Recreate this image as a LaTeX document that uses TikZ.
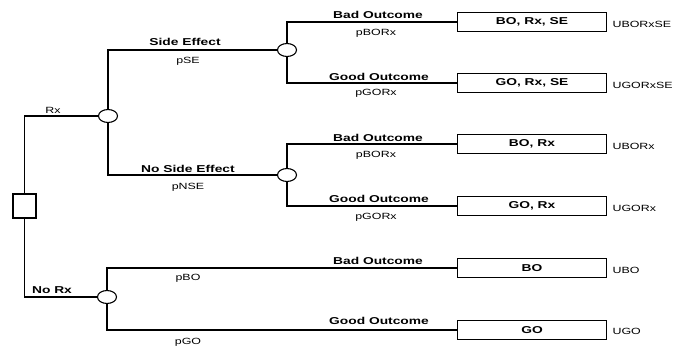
\documentclass[tikz,border=0pt]{standalone}
\usepackage{fontspec}
\newfontfamily\lab{Liberation Sans}[FakeStretch=1.38]
\usetikzlibrary{shapes.geometric}
\begin{document}
\begin{tikzpicture}[x=1pt,y=-1pt,line width=1.1pt,
  chance/.style={ellipse,draw,minimum width=19pt,minimum height=13pt,inner sep=0pt},
  decision/.style={rectangle,draw,minimum width=23pt,minimum height=24pt,inner sep=0pt},
  outbox/.style={rectangle,draw,minimum width=149pt,minimum height=19pt,inner sep=0pt,font=\lab\bfseries\fontsize{10}{12}\selectfont},
  bl/.style={inner sep=0pt,font=\lab\bfseries\fontsize{10}{12}\selectfont},
  pl/.style={inner sep=0pt,font=\lab\fontsize{9}{11}\selectfont},
  ul/.style={inner sep=0pt,anchor=west,font=\lab\fontsize{9}{11}\selectfont}]
\useasboundingbox (0,0) rectangle (673,347);
% nodes
\node[decision] (D) at (24.5,206) {};
\node[chance] (C1) at (108,116) {};
\node[chance] (C2) at (287,50) {};
\node[chance] (C3) at (287,175) {};
\node[chance] (C4) at (107,297) {};
\node[outbox] (B1) at (532,22) {BO, Rx, SE};
\node[outbox] (B2) at (532,83) {GO, Rx, SE};
\node[outbox] (B3) at (532,144) {BO, Rx};
\node[outbox] (B4) at (532,206) {GO, Rx};
\node[outbox] (B5) at (532,268) {BO};
\node[outbox] (B6) at (532,330) {GO};
% connectors
\draw (D) |- (C1);
\draw (D) |- (C4);
\draw (C1) |- (C2);
\draw (C1) |- (C3);
\draw (C2) |- (B1);
\draw (C2) |- (B2);
\draw (C3) |- (B3);
\draw (C3) |- (B4);
\draw (C4) |- (B5);
\draw (C4) |- (B6);
% branch labels
\node[pl] (tRx) at (53,110) {Rx};
\node[bl] (tNoRx) at (52,290) {No Rx};
\node[bl] (tSE) at (185,42) {Side Effect};
\node[pl] (pSE) at (188,61) {pSE};
\node[bl] (tNSE) at (188,169) {No Side Effect};
\node[pl] (pNSE) at (188,187) {pNSE};
\node[pl] (pBO) at (188,278) {pBO};
\node[pl] (pGO) at (188,342) {pGO};
\node[bl] (l1) at (378,15) {Bad Outcome};
\node[pl] (q1) at (376,33) {pBORx};
\node[bl] (l2) at (379,77) {Good Outcome};
\node[pl] (q2) at (376,93) {pGORx};
\node[bl] (l3) at (378,138) {Bad Outcome};
\node[pl] (q3) at (376,155) {pBORx};
\node[bl] (l4) at (379,199) {Good Outcome};
\node[pl] (q4) at (376,217) {pGORx};
\node[bl] (l5) at (378,261) {Bad Outcome};
\node[bl] (l6) at (379,321) {Good Outcome};
% utilities
\node[ul] (u1) at (612,24) {UBORxSE};
\node[ul] (u2) at (612,85) {UGORxSE};
\node[ul] (u3) at (612,146) {UBORx};
\node[ul] (u4) at (612,208) {UGORx};
\node[ul] (u5) at (612,270) {UBO};
\node[ul] (u6) at (612,331) {UGO};
\end{tikzpicture}
\end{document}
